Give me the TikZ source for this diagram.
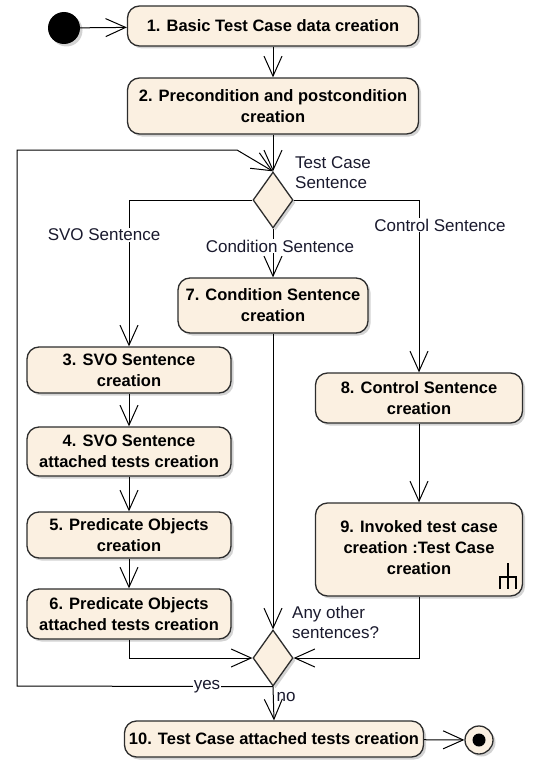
\documentclass[tikz,border=0pt]{standalone}
\usepackage{fontspec}
\setmainfont{Liberation Sans}
\usetikzlibrary{arrows.meta,shapes.geometric,shadows}
\definecolor{boxfill}{RGB}{251,240,225}
\definecolor{boxline}{RGB}{45,45,45}
\definecolor{lbltext}{RGB}{25,25,45}
\begin{document}
\begin{tikzpicture}[x=1pt,y=-1pt,
  shad/.style={drop shadow={shadow xshift=2.5pt, shadow yshift=-2.5pt, opacity=0.35}},
  act/.style={draw=boxline, line width=1.3pt, fill=boxfill, rounded corners=12pt,
    align=center, inner sep=2pt, font=\fontsize{16.5}{21}\selectfont\bfseries, shad},
  dec/.style={draw=boxline, line width=1.3pt, fill=boxfill, diamond,
    minimum width=40pt, minimum height=56pt, inner sep=0pt, shad},
  flow/.style={draw=black, line width=1pt, -{Straight Barb[length=20pt,width=18pt]}},
  lbl/.style={font=\fontsize{17}{20}\selectfont, text=lbltext, inner sep=1pt, align=left}]
\useasboundingbox (0,0) rectangle (537,760);

% nodes
\node[circle, fill=black, minimum size=32pt, inner sep=0pt, shad] (start) at (64,28) {};
\node[act, minimum width=291pt, minimum height=40pt] (n1) at (273,26) {1. Basic Test Case data creation};
\node[act, minimum width=291pt, minimum height=56pt] (n2) at (273,106) {2. Precondition and postcondition\\creation};
\node[dec] (d1) at (273,200) {};
\node[act, minimum width=190pt, minimum height=55pt] (n7) at (273,305.5) {7. Condition Sentence\\creation};
\node[act, minimum width=204pt, minimum height=46pt] (n3) at (129,370) {3. SVO Sentence\\creation};
\node[act, minimum width=204pt, minimum height=49pt] (n4) at (129,451.5) {4. SVO Sentence\\attached tests creation};
\node[act, minimum width=204pt, minimum height=46pt] (n5) at (129,535) {5. Predicate Objects\\creation};
\node[act, minimum width=204pt, minimum height=50pt] (n6) at (129,614) {6. Predicate Objects\\attached tests creation};
\node[act, minimum width=207pt, minimum height=50pt] (n8) at (419,398) {8. Control Sentence\\creation};
\node[act, minimum width=207pt, minimum height=93pt] (n9) at (419,549.5)
  {\raisebox{4.5pt}{\begin{tabular}{@{}c@{}}9. Invoked test case\\creation :Test Case\\creation\end{tabular}}};
\node[dec] (d2) at (273,658) {};
\node[act, minimum width=299pt, minimum height=36pt] (n10) at (274,739) {10. Test Case attached tests creation};
\node[circle, draw=boxline, line width=1.3pt, fill=boxfill, minimum size=28pt, inner sep=0pt, shad] (end) at (479,740) {};
\node[circle, fill=black, minimum size=13pt, inner sep=0pt] (enddot) at (end) {};

% fork symbol in node 9
\draw[line width=1.2pt, black] (508,563) -- (508,589);
\draw[line width=1.2pt, black] (500,589) -- (500,577) -- (516,577) -- (516,589);

% loop coordinates
\coordinate (lb) at (17,686);
\coordinate (lt) at (17,150);
\coordinate (lk) at (237,150);

% connectors
\draw[flow] (start) -- (n1);
\draw[flow] (n1) -- (n2);
\draw[flow] (n2) -- (d1.north);
\draw[flow] (d2.south) -- (lb) -- (lt) -- (lk) -- (d1.north);
\draw[flow] (d1.west) -| (n3.north);
\draw[flow] (d1.east) -| (n8.north);
\draw[flow] (d1.south) -- (n7.north);
\draw[flow] (n3) -- (n4);
\draw[flow] (n4) -- (n5);
\draw[flow] (n5) -- (n6);
\draw[flow] (n6.south) |- (d2.west);
\draw[flow] (n9.south) |- (d2.east);
\draw[flow] (n7.south) -- (d2.north);
\draw[flow] (n8) -- (n9);
\draw[flow] (d2.south) -- (n10.north);
\draw[flow] (n10) -- (end);

% labels
\node[lbl, fill=white] (lsvo) at (104,235) {SVO Sentence};
\node[lbl, fill=white] (lctl) at (440,225) {Control Sentence};
\node[lbl, fill=white] (lcond) at (280,246) {Condition Sentence};
\node[lbl, anchor=west] (ltcs) at (294,173) {Test Case\\Sentence};
\node[lbl, anchor=west] (lany) at (291,622) {Any other\\sentences?};
\node[lbl, fill=white] (lyes) at (207,687) {yes};
\node[lbl] (lno) at (286,697) {no};
\end{tikzpicture}
\end{document}
